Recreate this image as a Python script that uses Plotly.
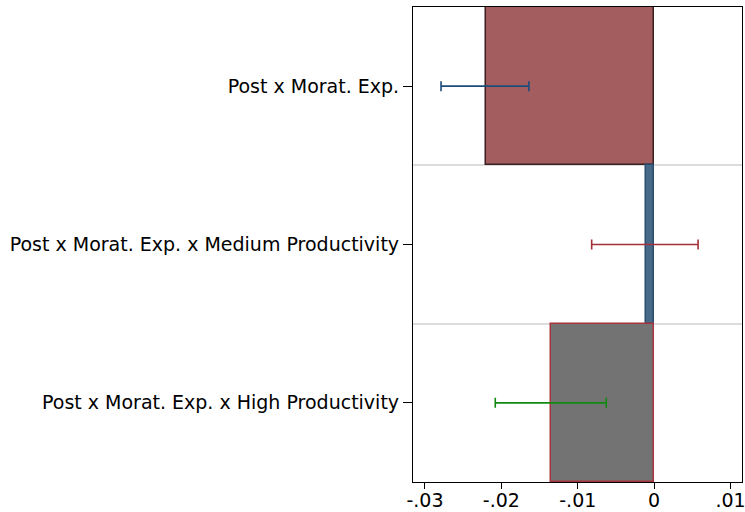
import plotly.graph_objects as go

labels = ["Post x Morat. Exp.",
          "Post x Morat. Exp. x Medium Productivity",
          "Post x Morat. Exp. x High Productivity"]
estimates = [-0.0220, -0.00113, -0.0135]
ci_low = [-0.0279, -0.00818, -0.0208]
ci_high = [-0.0164, 0.00575, -0.00627]

bar_fill = ["#a35d5f", "#476a89", "#737373"]
bar_line = ["#3a1f21", "#2b4c6e", "#a8343c"]
err_color = ["#1d4c7c", "#a3303a", "#128a12"]

pos = list(range(len(labels)))

fig = go.Figure()
for i in pos:
    fig.add_trace(go.Bar(
        x=[estimates[i]], y=[pos[i]], orientation="h", width=1,
        marker=dict(color=bar_fill[i], line=dict(color=bar_line[i], width=1.5)),
        showlegend=False, hoverinfo="skip"))
for i in pos:
    fig.add_trace(go.Scatter(
        x=[estimates[i]], y=[pos[i]], mode="markers",
        marker=dict(size=0.1, color="rgba(0,0,0,0)"),
        error_x=dict(type="data", symmetric=False,
                     array=[ci_high[i] - estimates[i]],
                     arrayminus=[estimates[i] - ci_low[i]],
                     color=err_color[i], thickness=1.6, width=5),
        showlegend=False, hoverinfo="skip"))

fig.update_layout(
    width=745, height=512,
    margin=dict(l=413, r=3, t=7, b=30, autoexpand=False),
    plot_bgcolor="white", paper_bgcolor="white",
    font=dict(family="DejaVu Sans", size=19, color="black"),
    bargap=0, barmode="overlay",
)
fig.update_xaxes(
    range=[-0.03157, 0.0115],
    tickvals=[-0.03, -0.02, -0.01, 0, 0.01],
    ticktext=["-.03", "-.02", "-.01", "0", ".01"],
    ticks="outside", ticklen=6, tickwidth=1.2, tickcolor="black",
    showgrid=False, zeroline=False, automargin=False,
    showline=True, linecolor="black", linewidth=1.2, mirror=True,
    tickfont=dict(size=19), ticklabelstandoff=-5, ticklabeloverflow="allow",
)
fig.update_yaxes(
    range=[len(labels) - 0.5, -0.5],
    tickvals=pos, ticktext=labels,
    ticks="outside", ticklen=9, tickwidth=1.2, tickcolor="black",
    showgrid=False, zeroline=False, automargin=False,
    showline=True, linecolor="black", linewidth=1.2, mirror=True,
    minor=dict(tickvals=[p + 0.5 for p in pos[:-1]], showgrid=True,
               gridcolor="#dcdcdc", gridwidth=2, ticklen=0),
    tickfont=dict(size=19),
)
fig.write_html("out.html")
